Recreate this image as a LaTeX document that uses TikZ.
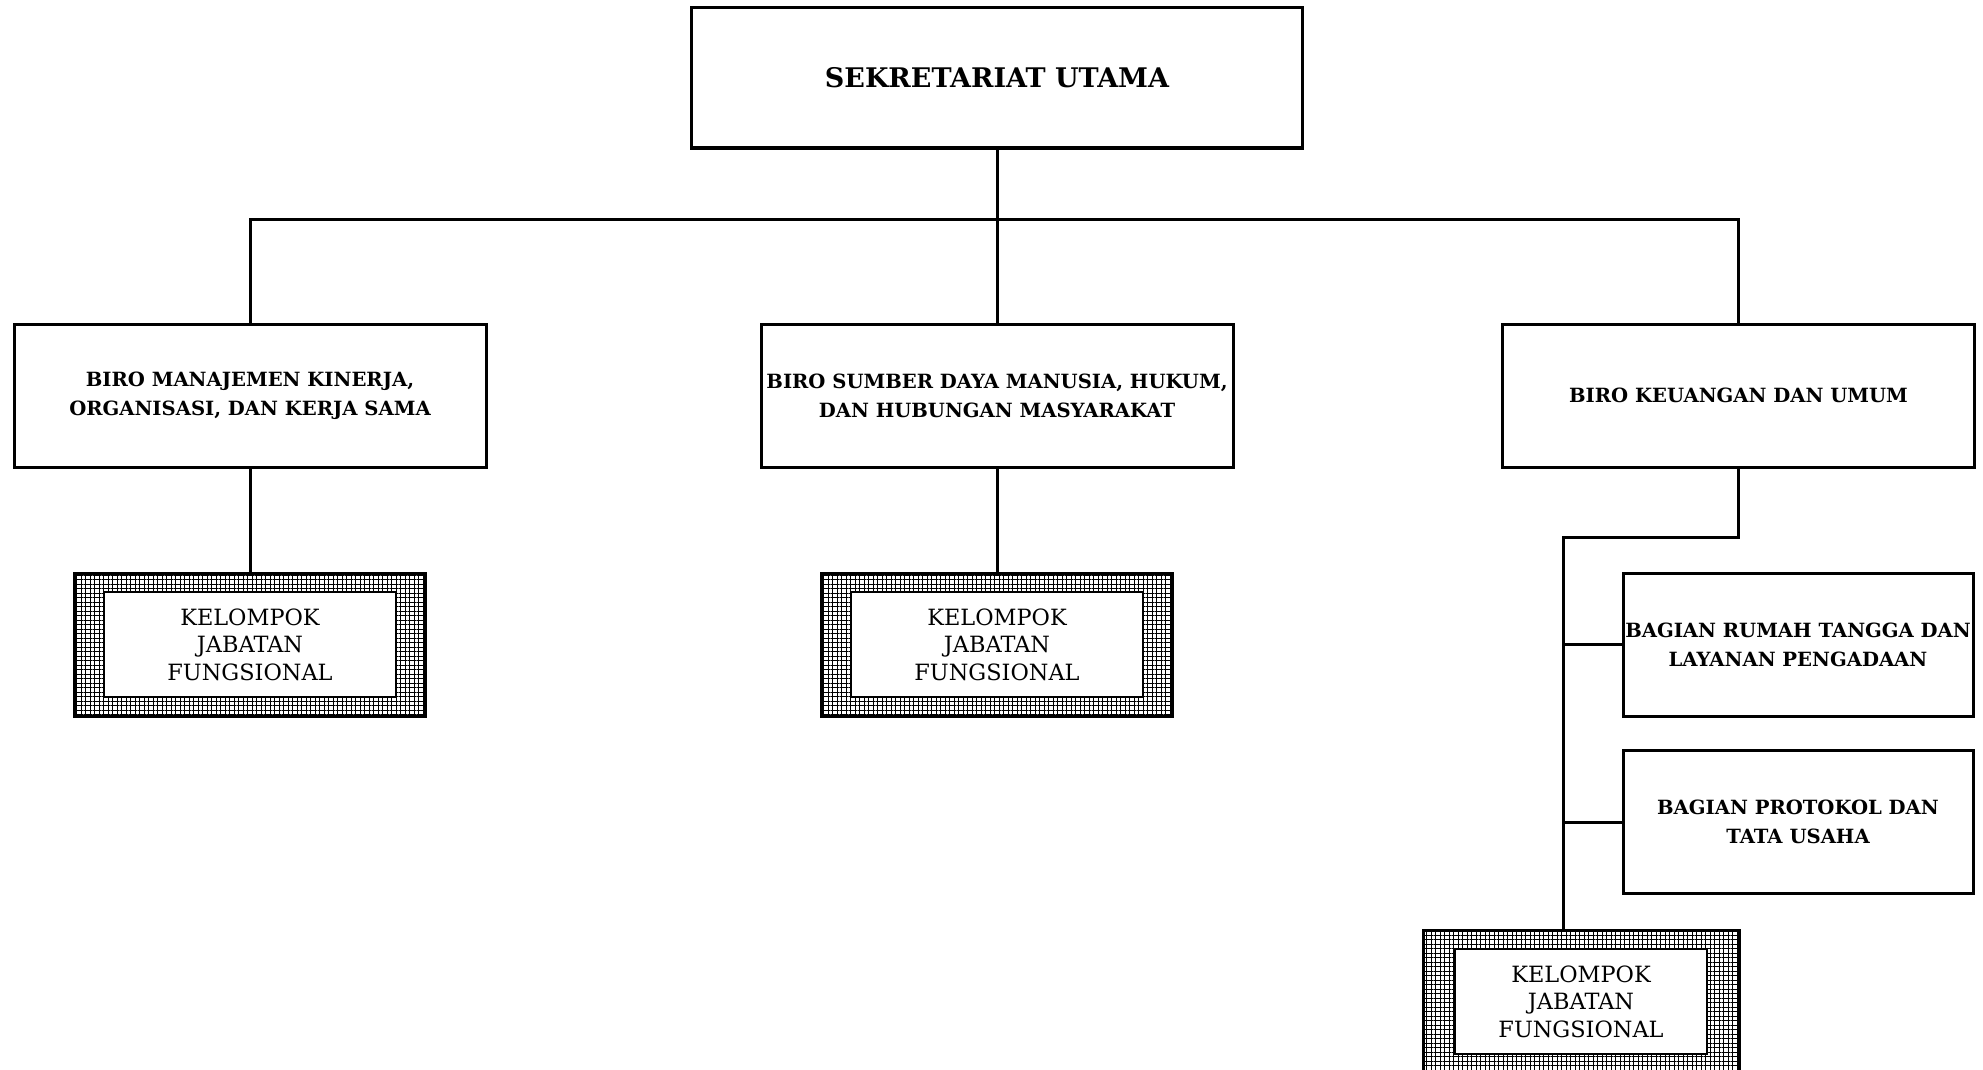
\documentclass[tikz,border=0pt]{standalone}
\usepackage{fontspec}
\setmainfont{DejaVu Serif}
\usepackage{tikz}
\usetikzlibrary{positioning,patterns.meta}

\begin{document}
\begin{tikzpicture}[
  x=1pt, y=-1pt,
  unit/.style={draw, line width=3pt, fill=white, align=center, inner sep=0pt,
    font=\fontsize{19.6}{29}\selectfont\bfseries, minimum width=472pt, minimum height=143pt},
  head/.style={unit, font=\fontsize{27}{29}\selectfont\bfseries, minimum width=611pt, minimum height=140pt},
  sub/.style={unit, minimum width=350pt, minimum height=143pt},
  kjf/.style={draw, line width=3pt, pattern={Hatch[angle=0,distance=4.5pt,line width=0.55pt]},
    minimum width=351pt, minimum height=143pt, inner sep=0pt},
  kjfin/.style={draw, line width=1.8pt, fill=white, align=center, inner sep=0pt,
    font=\fontsize{22.4}{27.5}\selectfont, minimum width=291pt, minimum height=105pt},
  link/.style={line width=3pt}
]
\useasboundingbox (0,0) rectangle (1983,1070);

\node[head] (sekut) at (997,78) {SEKRETARIAT UTAMA};

\node[unit] (biro1) at (250,395.5) {BIRO MANAJEMEN KINERJA,\\ORGANISASI, DAN KERJA SAMA};
\node[unit] (biro2) at (997,395.5) {BIRO SUMBER DAYA MANUSIA, HUKUM,\\DAN HUBUNGAN MASYARAKAT};
\node[unit] (biro3) at (1738.5,395.5) {BIRO KEUANGAN DAN UMUM};

\node[kjf] (kjf1) at (250,644.5) {};
\node[kjfin] (kjf1t) at (kjf1.center) {KELOMPOK\\JABATAN\\FUNGSIONAL};
\node[kjf] (kjf2) at (997,644.5) {};
\node[kjfin] (kjf2t) at (kjf2.center) {KELOMPOK\\JABATAN\\FUNGSIONAL};

\node[sub] (bag1) at (1798,644.5) {BAGIAN RUMAH TANGGA DAN\\LAYANAN PENGADAAN};
\node[sub] (bag2) at (1798,822) {BAGIAN PROTOKOL DAN\\TATA USAHA};

\node[kjf, minimum width=316pt] (kjf3) at (1581,1001.5) {};
\node[kjfin, minimum width=252pt] (kjf3t) at (kjf3.center) {KELOMPOK\\JABATAN\\FUNGSIONAL};

% connectors
\coordinate (bus) at (997,219);
\coordinate (turn) at (1563,537);
\draw[link] (sekut.south) -- (biro2.north);
\draw[link] (biro1.north) |- (bus) -| (biro3.north);
\draw[link] (biro1.south) -- (kjf1.north);
\draw[link] (biro2.south) -- (kjf2.north);
\draw[link] (biro3.south) |- (turn) -- (kjf3.north -| turn);
\draw[link] (bag1.west -| turn) -- (bag1.west);
\draw[link] (bag2.west -| turn) -- (bag2.west);

\end{tikzpicture}
\end{document}
